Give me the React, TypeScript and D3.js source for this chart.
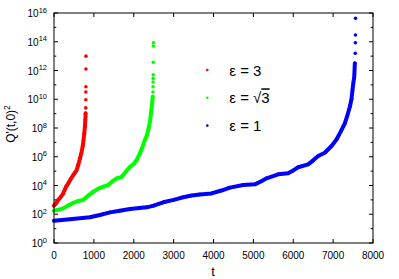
import React from 'react';
import * as d3 from 'd3';

const xTicks = [0, 1000, 2000, 3000, 4000, 5000, 6000, 7000, 8000];
const yMajorExps = [0, 2, 4, 6, 8, 10, 12, 14, 16];
const yMinorExps = [1, 3, 5, 7, 9, 11, 13, 15];

// ε = 3 (red): dense trace then isolated burst points (t, log10 Q'^2)
const redT = [0, 50, 108, 170, 233, 300, 358, 420, 484, 530, 568, 610, 652, 690, 718, 740, 760, 775, 786, 792];
const redLogQ = [2.6, 2.75, 3.0, 3.2, 3.46, 3.9, 4.15, 4.45, 4.73, 4.9, 5.08, 5.45, 5.89, 6.3, 6.7, 7.15, 7.63, 8.1, 8.56, 9.02];
const redTailT = [796, 798, 799, 800, 801, 802];
const redTailLogQ = [9.4, 9.97, 10.5, 10.87, 12.1, 13.0];

// ε = √3 (green)
const greenT = [0, 120, 233, 350, 484, 600, 735, 860, 985, 1110, 1236, 1361, 1470, 1571, 1696, 1800, 1905, 2000, 2072, 2155, 2220, 2281, 2330, 2363, 2406, 2440, 2465, 2475];
const greenLogQ = [2.25, 2.32, 2.41, 2.6, 2.8, 2.92, 3.0, 3.3, 3.57, 3.78, 3.92, 4.03, 4.3, 4.5, 4.6, 4.95, 5.3, 5.5, 5.77, 6.24, 6.7, 7.17, 7.5, 7.86, 8.44, 9.2, 9.8, 10.18];
const greenTailT = [2480, 2483, 2485, 2486, 2488, 2490, 2492, 2493];
const greenTailLogQ = [10.5, 10.87, 11.2, 11.45, 11.7, 12.57, 13.7, 13.93];

// ε = 1 (blue)
const blueT = [0, 400, 900, 1150, 1404, 1650, 1905, 2323, 2500, 2740, 3000, 3241, 3450, 3659, 3952, 4200, 4411, 4745, 5038, 5200, 5331, 5622, 5873, 6000, 6123, 6374, 6500, 6624, 6792, 6960, 7085, 7200, 7293, 7360, 7419, 7460, 7486, 7510, 7530, 7544];
const blueLogQ = [1.55, 1.65, 1.79, 1.95, 2.13, 2.25, 2.37, 2.48, 2.6, 2.83, 3.0, 3.18, 3.3, 3.38, 3.45, 3.65, 3.85, 4.03, 4.08, 4.3, 4.5, 4.78, 4.85, 5.05, 5.27, 5.47, 5.75, 6.05, 6.28, 6.75, 7.2, 7.8, 8.33, 8.9, 9.48, 10.0, 10.64, 11.2, 11.57, 12.5];
const blueTailT = [7555, 7558, 7560, 7562];
const blueTailLogQ = [13.2, 13.93, 14.47, 15.63];

const legendLabels = ['3', '√3', '1'];
const seriesColors = ['#ff0000', '#00ff00', '#0000ff'];

const W = 399, H = 279;
const left = 54, right = 373, top = 13, bottom = 243;
const FONT = 'Liberation Sans, Arial, Helvetica, sans-serif';

export default function App() {
  const x = d3.scaleLinear().domain([0, 8000]).range([left, right]);
  const y = d3.scaleLog().domain([1, 1e16]).range([bottom, top]);

  const series = [
    { t: redT, lq: redLogQ, tt: redTailT, tlq: redTailLogQ, color: seriesColors[0] },
    { t: greenT, lq: greenLogQ, tt: greenTailT, tlq: greenTailLogQ, color: seriesColors[1] },
    { t: blueT, lq: blueLogQ, tt: blueTailT, tlq: blueTailLogQ, color: seriesColors[2] },
  ];

  const line = d3.line<[number, number]>()
    .x((d) => x(d[0]))
    .y((d) => y(Math.pow(10, d[1])));

  return (
    <svg width={W} height={H} style={{ position: 'absolute', left: 0, top: 0, background: '#fff' }} fontFamily={FONT}>
      {/* data */}
      {series.map((s, i) => {
        const pts: [number, number][] = s.t.map((t, j) => [t, s.lq[j]]);
        const tail: [number, number][] = s.tt.map((t, j) => [t, s.tlq[j]]);
        return (
          <g key={i}>
            <path d={line(pts) || ''} fill="none" stroke={s.color} strokeWidth={4} strokeLinejoin="round" strokeLinecap="round" />
            {pts.concat(tail).map((p, j) => (
              <circle key={j} cx={x(p[0])} cy={y(Math.pow(10, p[1]))} r={1.8} fill={s.color} />
            ))}
          </g>
        );
      })}

      {/* frame */}
      <rect x={left} y={top} width={right - left} height={bottom - top} fill="none" stroke="#000" strokeWidth={1} />

      {/* x ticks */}
      {xTicks.map((t) => (
        <g key={t}>
          <line x1={x(t)} x2={x(t)} y1={bottom} y2={bottom - 4} stroke="#000" />
          <line x1={x(t)} x2={x(t)} y1={top} y2={top + 4} stroke="#000" />
          <text x={x(t)} y={258.5} fontSize={10} textAnchor="middle">{t}</text>
        </g>
      ))}

      {/* y ticks */}
      {yMajorExps.map((e) => (
        <g key={e}>
          <line x1={left} x2={left + 4} y1={y(Math.pow(10, e))} y2={y(Math.pow(10, e))} stroke="#000" />
          <line x1={right} x2={right - 4} y1={y(Math.pow(10, e))} y2={y(Math.pow(10, e))} stroke="#000" />
          <text x={47} y={y(Math.pow(10, e)) + 4} fontSize={10} textAnchor="end">
            10<tspan dy={-4.5} fontSize={7.5}>{e}</tspan>
          </text>
        </g>
      ))}
      {yMinorExps.map((e) => (
        <g key={e}>
          <line x1={left} x2={left + 2.3} y1={y(Math.pow(10, e))} y2={y(Math.pow(10, e))} stroke="#000" />
          <line x1={right} x2={right - 2.3} y1={y(Math.pow(10, e))} y2={y(Math.pow(10, e))} stroke="#000" />
        </g>
      ))}

      {/* axis titles */}
      <text x={213} y={276} fontSize={13} textAnchor="middle">t</text>
      <text transform="translate(15,124) rotate(-90)" fontSize={12} textAnchor="middle">
        Q'(t,0)<tspan dy={-5} fontSize={8.5}>2</tspan>
      </text>

      {/* legend */}
      {legendLabels.map((lab, i) => {
        const ly = 70 + i * 27.8;
        return (
          <g key={i}>
            <circle cx={207.3} cy={ly} r={1.3} fill={seriesColors[i]} />
            <text x={229.3} y={ly + 5.5} fontSize={15}>
              {lab.startsWith('√') ? (
                <>
                  {'ε = √'}
                  <tspan style={{ textDecoration: 'overline' }}>{lab.slice(1)}</tspan>
                </>
              ) : (
                'ε = ' + lab
              )}
            </text>
          </g>
        );
      })}
    </svg>
  );
}
